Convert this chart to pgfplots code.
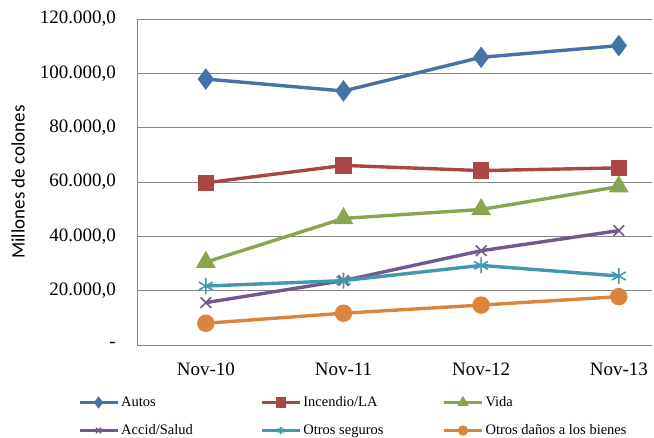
\documentclass[border=0pt]{standalone}
\usepackage{pgfplots}
\pgfplotsset{compat=1.18}
\usepackage{fontspec}
\setmainfont{Liberation Serif}
\newfontfamily\calibri{Carlito}
\definecolor{autos}{HTML}{4572A7}
\definecolor{incendio}{HTML}{AA4643}
\definecolor{vida}{HTML}{89A54E}
\definecolor{accid}{HTML}{71588F}
\definecolor{otrosseg}{HTML}{4198AF}
\definecolor{otrosdan}{HTML}{DB843D}
\definecolor{gridgray}{HTML}{868686}
\newcommand{\lentry}[1]{\makebox[139pt][l]{#1}}
\begin{document}
\begin{tikzpicture}
\useasboundingbox (-137pt,-92pt) rectangle (517pt,345pt);
\begin{axis}[
  at={(0,0)}, anchor=south west,
  scale only axis, width=515pt, height=326pt,
  xmin=-0.5, xmax=3.241, ymin=0, ymax=120000,
  scaled y ticks=false,
  xtick={0,1,2,3},
  xticklabels={Nov-10,Nov-11,Nov-12,Nov-13},
  ytick={0,20000,40000,60000,80000,100000,120000},
  yticklabels={{-\hspace{12pt}},{20.000,0},{40.000,0},{60.000,0},{80.000,0},{100.000,0},{120.000,0}},
  major tick length=0pt,
  axis x line*=bottom, axis y line*=left,
  axis line style={-, draw=gridgray, line width=0.8pt},
  ymajorgrids, grid style={draw=gridgray, line width=0.8pt},
  xticklabel style={font=\fontsize{19}{21}\selectfont, anchor=north, inner sep=0pt, yshift=-18pt},
  yticklabel style={font=\fontsize{19}{21}\selectfont, anchor=east, inner sep=0pt, xshift=-21pt},
  ylabel={Millones de colones},
  ylabel style={font=\calibri\fontsize{19}{21}\selectfont, at={(axis description cs:0,0.5)}, anchor=center, yshift=119pt},
  clip=false,
  every axis plot/.append style={line width=3.4pt},
  legend columns=3,
  legend cell align=left,
  legend style={draw=none, fill=none, inner sep=0pt, outer sep=0pt,
    font=\fontsize{14.5}{16}\selectfont,
    at={(axis description cs:0,0)}, anchor=north west, xshift=-59pt, yshift=-51pt,
    nodes={inner sep=0pt, text height=10pt, text depth=3pt},
    /tikz/every odd column/.append style={column sep=2pt},
    /tikz/row sep=15pt},
  legend image code/.code={
    \draw[mark repeat=2, mark phase=2, #1, mark size=3.5pt, line width=3.2pt]
      plot coordinates {(0pt,0pt) (19pt,0pt) (38pt,0pt)};
  },
]
\addplot[color=autos, mark=diamond*, mark size=8pt, mark options={solid}]
  coordinates {(0,97900) (1,93500) (2,105900) (3,110200)};
\addlegendentry{\lentry{Autos}}
\addplot[color=incendio, mark=square*, mark size=6.5pt]
  coordinates {(0,59700) (1,66100) (2,64200) (3,65200)};
\addlegendentry{\lentry{Incendio/LA}}
\addplot[color=vida, mark=triangle*, mark size=8pt]
  coordinates {(0,30500) (1,46600) (2,49900) (3,58300)};
\addlegendentry{\lentry{Vida}}
\addplot[color=accid, mark=x, mark size=7.5pt, mark options={line width=1.6pt}]
  coordinates {(0,15600) (1,23700) (2,34700) (3,42100)};
\addlegendentry{\lentry{Accid/Salud}}
\addplot[color=otrosseg, mark=asterisk, mark size=8pt, mark options={line width=1.6pt}]
  coordinates {(0,21700) (1,23700) (2,29300) (3,25400)};
\addlegendentry{\lentry{Otros seguros}}
\addplot[color=otrosdan, mark=*, mark size=7pt]
  coordinates {(0,8000) (1,11700) (2,14700) (3,17800)};
\addlegendentry{\lentry{Otros daños a los bienes}}
\end{axis}
\end{tikzpicture}
\end{document}
